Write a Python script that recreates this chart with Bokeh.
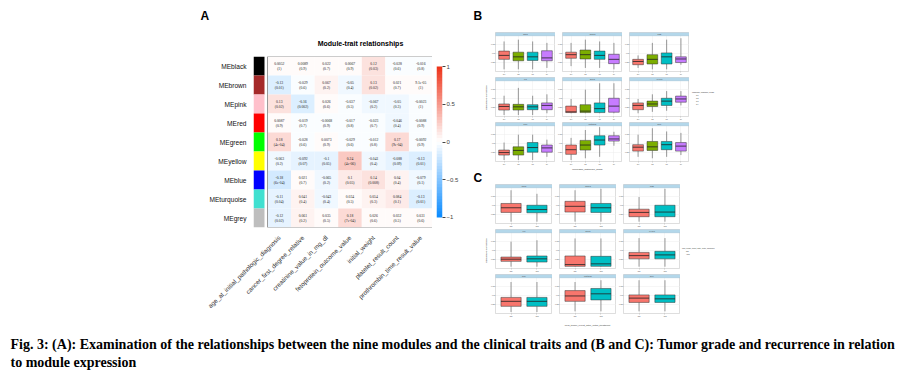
import math
import numpy as np
from bokeh.plotting import figure
from bokeh.layouts import row, column
from bokeh.models import (Range1d, FixedTicker, LinearAxis, Label, LinearColorMapper,
                          ColumnDataSource, Legend, LegendItem, Grid)
from bokeh.transform import linear_cmap
from bokeh.embed import file_html
from bokeh.resources import INLINE

SANS = "Liberation Sans"
SERIF = "Liberation Serif"

# ---------------- Panel A data ----------------
modules = ["MEblack", "MEbrown", "MEpink", "MEred", "MEgreen", "MEyellow", "MEblue", "MEturquoise", "MEgrey"]
module_colors = ["#000000", "#A52A2A", "#FFC0CB", "#FF0000", "#00FF00", "#FFFF00", "#0000FF", "#40E0D0", "#BEBEBE"]
traits = ["age_at_initial_pathologic_diagnosis", "cancer_first_degree_relative", "creatinine_value_in_mg_dl",
          "fetoprotein_outcome_value", "initial_weight", "platelet_result_count", "prothrombin_time_result_value"]
cor = [
    [0.0052, 0.0089, 0.022, 0.0067, 0.12, -0.028, -0.016],
    [-0.13, -0.029, 0.067, -0.05, 0.13, 0.021, 9.1e-05],
    [0.13, -0.16, 0.026, -0.037, -0.067, -0.05, -0.0023],
    [0.0087, -0.019, -0.0068, -0.017, -0.023, -0.046, -0.0088],
    [0.18, -0.028, 0.0073, -0.029, -0.012, 0.17, -0.0092],
    [-0.063, -0.092, -0.1, 0.24, -0.041, -0.088, -0.13],
    [-0.18, 0.021, -0.065, 0.1, 0.14, 0.04, -0.079],
    [-0.11, 0.041, -0.043, 0.034, 0.054, 0.084, -0.13],
    [-0.12, 0.061, 0.035, 0.18, 0.026, 0.032, 0.031],
]
pval = [
    ["1", "0.9", "0.7", "0.9", "0.03", "0.6", "0.8"],
    ["0.01", "0.6", "0.2", "0.4", "0.02", "0.7", "1"],
    ["0.02", "0.002", "0.6", "0.5", "0.2", "0.3", "1"],
    ["0.9", "0.7", "0.9", "0.8", "0.7", "0.4", "0.9"],
    ["4e-04", "0.6", "0.9", "0.6", "0.8", "9e-04", "0.9"],
    ["0.2", "0.07", "0.05", "4e-06", "0.4", "0.09", "0.01"],
    ["6e-04", "0.7", "0.2", "0.05", "0.008", "0.4", "0.1"],
    ["0.04", "0.4", "0.4", "0.5", "0.3", "0.1", "0.01"],
    ["0.02", "0.2", "0.5", "7e-04", "0.6", "0.5", "0.6"],
]
colorbar_ticks = [-1, -0.5, 0, 0.5, 1]

# ---------------- Panels B / C data (box statistics, eigengene expression) ----------------
facet_names = ["black", "brown", "pink", "red", "green", "yellow", "blue", "turquoise", "grey"]
grade_labels = ["G1", "G2", "G3", "G4"]
grade_colors = ["#F8766D", "#7CAE00", "#00BFC4", "#C77CFF"]
B_q3 = [[0.57, 0.54, 0.54, 0.58], [0.54, 0.60, 0.57, 0.48], [0.34, 0.47, 0.52, 0.41],
        [0.35, 0.34, 0.33, 0.38], [0.29, 0.33, 0.38, 0.51], [0.38, 0.43, 0.51, 0.57],
        [0.32, 0.41, 0.53, 0.46], [0.46, 0.59, 0.72, 0.72], [0.47, 0.56, 0.56, 0.53]]
B_med = [[0.45, 0.41, 0.41, 0.38], [0.47, 0.47, 0.45, 0.34], [0.28, 0.34, 0.41, 0.35],
         [0.28, 0.27, 0.27, 0.31], [0.13, 0.15, 0.22, 0.29], [0.31, 0.35, 0.43, 0.49],
         [0.25, 0.31, 0.39, 0.38], [0.33, 0.46, 0.60, 0.63], [0.40, 0.41, 0.47, 0.43]]
B_q1 = [[0.34, 0.30, 0.31, 0.30], [0.37, 0.35, 0.34, 0.22], [0.19, 0.21, 0.21, 0.25],
        [0.18, 0.18, 0.19, 0.19], [0.11, 0.11, 0.11, 0.12], [0.19, 0.28, 0.31, 0.40],
        [0.18, 0.18, 0.26, 0.26], [0.20, 0.32, 0.46, 0.57], [0.29, 0.31, 0.33, 0.29]]
B_hi = [[0.84, 0.89, 0.84, 0.80], [0.80, 0.89, 0.84, 0.80], [0.45, 0.80, 0.89, 0.93],
        [0.58, 0.80, 0.58, 0.62], [0.49, 0.75, 0.93, 0.93], [0.49, 0.62, 0.71, 0.71],
        [0.53, 0.75, 0.75, 0.61], [0.66, 0.88, 0.96, 0.83], [0.75, 0.93, 0.84, 0.80]]
B_lo = [[0.06, 0.06, 0.06, 0.10], [0.15, 0.10, 0.10, 0.06], [0.10, 0.06, 0.06, 0.19],
        [0.04, 0.04, 0.04, 0.09], [0.09, 0.09, 0.09, 0.09], [0.09, 0.13, 0.16, 0.31],
        [0.04, 0.04, 0.04, 0.13], [0.04, 0.09, 0.13, 0.44], [0.13, 0.09, 0.13, 0.18]]

event_labels = ["NO", "YES"]
event_colors = ["#F8766D", "#00BFC4"]
C_q3 = [[0.56, 0.51], [0.62, 0.56], [0.40, 0.51], [0.32, 0.35], [0.35, 0.34],
        [0.45, 0.48], [0.45, 0.45], [0.64, 0.70], [0.52, 0.52]]
C_med = [[0.44, 0.39], [0.48, 0.44], [0.31, 0.32], [0.26, 0.27], [0.11, 0.13],
         [0.36, 0.38], [0.34, 0.34], [0.49, 0.55], [0.43, 0.41]]
C_q1 = [[0.31, 0.30], [0.32, 0.31], [0.19, 0.19], [0.20, 0.18], [0.06, 0.06],
        [0.27, 0.27], [0.20, 0.20], [0.34, 0.38], [0.31, 0.31]]
C_hi = [[0.93, 0.83], [0.93, 0.97], [0.74, 0.97], [0.75, 0.79], [0.84, 0.84],
        [0.85, 0.85], [0.88, 0.88], [0.88, 0.93], [0.93, 0.93]]
C_lo = [[0.05, 0.05], [0.05, 0.05], [0.05, 0.05], [0.05, 0.05], [0.05, 0.05],
        [0.05, 0.05], [0.04, 0.04], [0.06, 0.06], [0.06, 0.06]]

caption_line1 = ("Fig. 3: (A): Examination of the relationships between the nine modules and the clinical "
                 "traits and (B and C): Tumor grade and recurrence in relation")
caption_line2 = "to module expression"


def blue_white_red(n=50):
    blue = (0.05, 0.55, 1.0)
    red = (0.93, 0.2, 0.1)
    out = []
    for i in range(n):
        t = i / (n - 1)
        if t < 0.5:
            f = (0.5 - t) / 0.5
            c = [1 - (1 - b) * f for b in blue]
        else:
            f = (t - 0.5) / 0.5
            c = [1 - (1 - r) * f for r in red]
        out.append("#%02x%02x%02x" % tuple(int(round(255 * v)) for v in c))
    return out


PALETTE = blue_white_red(50)


def blank(width, height, **kw):
    p = figure(width=width, height=height, x_range=Range1d(0, 1), y_range=Range1d(0, 1),
               x_axis_type=None, y_axis_type=None, output_backend="svg", toolbar_location=None,
               min_border=0, **kw)
    p.outline_line_color = None
    return p


def slabel(p, x, y, text, size, bold=False, align="left", angle=0, color="#000000", font=SANS):
    p.add_layout(Label(x=x, y=y, x_units="screen", y_units="screen", text=text,
                       text_font=font, text_font_size=size, text_font_style="bold" if bold else "normal",
                       text_align=align, text_baseline="middle", angle=angle, text_color=color))


# ---------------- Panel A ----------------
A_H = 274
headA = blank(470, 56)
slabel(headA, 200, 41, "A", "12px", bold=True)
slabel(headA, 360, 13, "Module-trait relationships", "7px", bold=True, align="center")

pA = figure(width=432, height=A_H, x_range=Range1d(-1.094, 6.5), y_range=Range1d(-0.5, 8.5),
            min_border_left=253, min_border_right=0, min_border_top=0, min_border_bottom=103,
            x_axis_type=None, y_axis_type=None, output_backend="svg", toolbar_location=None)
pA.outline_line_color = None

xs, ys, cs, t1, t2 = [], [], [], [], []
for i, m in enumerate(modules):
    for j, t in enumerate(traits):
        xs.append(j)
        ys.append(len(modules) - 1 - i)
        cs.append(cor[i][j])
        t1.append("%.2g" % cor[i][j])
        t2.append("(" + pval[i][j] + ")")
src = ColumnDataSource(dict(x=xs, y=ys, cor=cs, t1=t1, t2=t2))
pA.rect(x="x", y="y", width=1, height=1, source=src, line_color=None,
        fill_color=linear_cmap("cor", PALETTE, -1, 1))
pA.text(x="x", y="y", text="t1", source=src, text_font_size="3.7px", text_align="center",
        text_baseline="middle", y_offset=-2.3, text_color="#222222", text_font=SANS)
pA.text(x="x", y="y", text="t2", source=src, text_font_size="3.7px", text_align="center",
        text_baseline="middle", y_offset=2.5, text_color="#222222", text_font=SANS)
# heatmap border
pA.quad(left=[-0.5], right=[len(traits) - 0.5], bottom=[-0.5], top=[len(modules) - 0.5],
        fill_color=None, line_color="#9A9A9A", line_width=1)
# module colour swatches
msrc = ColumnDataSource(dict(y=[len(modules) - 1 - i for i in range(len(modules))], c=module_colors))
pA.rect(x=-0.861, y="y", width=0.467, height=1, fill_color="c", line_color=None, source=msrc)

xa = LinearAxis(ticker=FixedTicker(ticks=list(range(len(traits)))),
                major_label_overrides={j: t for j, t in enumerate(traits)},
                major_label_orientation=math.pi / 4)
xa.axis_line_color = None
xa.major_tick_line_color = None
xa.minor_tick_line_color = None
xa.major_label_text_font = SANS
xa.major_label_text_font_size = "6.3px"
xa.major_label_text_color = "#333333"
xa.major_label_standoff = 3
pA.add_layout(xa, "below")

ya = LinearAxis(ticker=FixedTicker(ticks=list(range(len(modules)))),
                major_label_overrides={len(modules) - 1 - i: m for i, m in enumerate(modules)})
ya.axis_line_color = None
ya.major_tick_line_color = None
ya.minor_tick_line_color = None
ya.major_label_text_font = SANS
ya.major_label_text_font_size = "6.6px"
ya.major_label_text_color = "#111111"
ya.major_label_standoff = 1
pA.add_layout(ya, "left")

# ---------------- colour bar (same frame as the heatmap) ----------------
pCB = figure(width=38, height=A_H, x_range=Range1d(0, 1), y_range=Range1d(-1.1325, 1.1325),
             min_border_left=4, min_border_right=28, min_border_top=0, min_border_bottom=103,
             x_axis_type=None, y_axis_type=None, output_backend="svg", toolbar_location=None)
pCB.outline_line_color = None
grad = np.linspace(-1, 1, 200).reshape(200, 1)
pCB.image(image=[grad], x=0, y=-1, dw=1, dh=2,
          color_mapper=LinearColorMapper(palette=PALETTE, low=-1, high=1))
cba = LinearAxis(ticker=FixedTicker(ticks=colorbar_ticks))
cba.axis_line_color = None
cba.major_tick_out = 3
cba.major_tick_in = 0
cba.major_tick_line_color = "#444444"
cba.minor_tick_line_color = None
cba.major_label_text_font = SANS
cba.major_label_text_font_size = "6px"
cba.major_label_standoff = 1
pCB.add_layout(cba, "right")

panelA = column(headA, row(pA, pCB, spacing=0), spacing=0)


# ---------------- facets ----------------
def facet(name, q1, med, q3, lo, hi, colors, labels, width, height, bottom, box_w):
    n = len(q1)
    p = figure(width=width, height=height, x_range=Range1d(0.4, n + 0.6), y_range=Range1d(0, 1.09),
               min_border_left=4, min_border_right=0, min_border_top=0, min_border_bottom=bottom,
               x_axis_type=None, y_axis_type=None, output_backend="svg", toolbar_location=None)
    p.outline_line_color = "#C8C8C8"
    p.outline_line_width = 0.6
    xs = list(range(1, n + 1))
    xax = LinearAxis(ticker=FixedTicker(ticks=xs), major_label_overrides={x: l for x, l in zip(xs, labels)})
    yax = LinearAxis(ticker=FixedTicker(ticks=[0.25, 0.5, 0.75]))
    for ax in (xax, yax):
        ax.axis_line_color = None
        ax.major_tick_out = 1
        ax.major_tick_in = 0
        ax.major_tick_line_color = "#888888"
        ax.major_tick_line_width = 0.4
        ax.minor_tick_line_color = None
        ax.major_label_text_font = SANS
        ax.major_label_text_font_size = "1.8px"
        ax.major_label_text_color = "#555555"
        ax.major_label_standoff = 0
    p.add_layout(xax, "below")
    p.add_layout(yax, "left")
    p.add_layout(Grid(dimension=0, ticker=xax.ticker, grid_line_color="#EDEDED", grid_line_width=0.5))
    p.add_layout(Grid(dimension=1, ticker=yax.ticker, grid_line_color="#EDEDED", grid_line_width=0.5))
    s = ColumnDataSource(dict(x=xs, q1=q1, med=med, q3=q3, lo=lo, hi=hi, c=colors,
                              xl=[x - box_w / 2 for x in xs], xr=[x + box_w / 2 for x in xs]))
    p.segment(x0="x", y0="q3", x1="x", y1="hi", source=s, line_color="#333333", line_width=0.5)
    p.segment(x0="x", y0="lo", x1="x", y1="q1", source=s, line_color="#333333", line_width=0.5)
    p.quad(left="xl", right="xr", bottom="q1", top="q3", fill_color="c", line_color="#333333",
           line_width=0.5, source=s)
    p.segment(x0="xl", y0="med", x1="xr", y1="med", source=s, line_color="#222222", line_width=0.8)
    p.quad(left=[0.4], right=[n + 0.6], bottom=[1.0], top=[1.09], fill_color="#B3D7EA",
           line_color="#9DBFD2", line_width=0.5)
    p.text(x=[(n + 1) / 2], y=[1.045], text=[name], text_font_size="2.2px", text_align="center",
           text_baseline="middle", text_color="#333333", text_font=SANS)
    return p


def legend_fig(width, height, title, labels, colors, loc):
    p = blank(width, height)
    items = []
    for lab, c in zip(labels, colors):
        r = p.quad(left=[], right=[], top=[], bottom=[], fill_color=c, line_color="#444444", line_width=0.3)
        items.append(LegendItem(label=lab, renderers=[r]))
    lg = Legend(items=items, location=loc, title=title, orientation="vertical")
    lg.title_text_font_size = "1.8px"
    lg.title_text_font = SANS
    lg.title_standoff = 1
    lg.label_text_font_size = "1.8px"
    lg.label_text_font = SANS
    lg.label_height = 2
    lg.label_width = 4
    lg.label_standoff = 1
    lg.glyph_height = 2
    lg.glyph_width = 3
    lg.spacing = 1
    lg.padding = 0
    lg.margin = 0
    lg.border_line_color = None
    lg.background_fill_alpha = 0
    p.add_layout(lg)
    return p


def facet_grid(q1, med, q3, lo, hi, colors, labels, width, height, bottom, box_w):
    rows = []
    for r in range(3):
        figs = []
        for c in range(3):
            k = r * 3 + c
            figs.append(facet(facet_names[k], q1[k], med[k], q3[k], lo[k], hi[k], colors, labels,
                              width, height, bottom, box_w))
        rows.append(row(*figs, spacing=0))
    return column(*rows, spacing=0)


RIGHT_W = 427
# header B
hB = blank(RIGHT_W, 32)
slabel(hB, 3, 17, "B", "12px", bold=True)
# y label B
ylB = blank(18, 135)
slabel(ylB, 16, 70, "Eigengene expression", "2.5px", align="center", angle=math.pi / 2, color="#333333")
gB = facet_grid(B_q1, B_med, B_q3, B_lo, B_hi, grade_colors, grade_labels, 67, 45, 3, 0.75)
lB = legend_fig(RIGHT_W - 18 - 201, 135, "neoplasm_histologic_grade", grade_labels, grade_colors, (3, 62))
rowB = row(ylB, gB, lB, spacing=0)

mid = blank(RIGHT_W, 17)
slabel(mid, 117, 15, "neoplasm_histologic_grade", "2.5px", align="center", color="#333333")
slabel(mid, 3, 7, "C", "12px", bold=True)

ylC = blank(18, 135)
slabel(ylC, 16, 69, "Eigengene expression", "2.5px", align="center", angle=math.pi / 2, color="#333333")
gC = facet_grid(C_q1, C_med, C_q3, C_lo, C_hi, event_colors, event_labels, 64, 45, 5, 0.78)
lC = legend_fig(RIGHT_W - 18 - 192, 135, "new_tumor_event_after_initial_treatment", event_labels,
                event_colors, (2, 64))
rowC = row(ylC, gC, lC, spacing=0)

fC = blank(RIGHT_W, 11)
slabel(fC, 117, 6, "new_tumor_event_after_initial_treatment", "2.5px", align="center", color="#333333")

right = column(hB, rowB, mid, rowC, fC, spacing=0)
top = row(panelA, right, spacing=0)

cap = blank(897, 46)
slabel(cap, 10, 32, caption_line1, "14px", bold=True, font=SERIF)
slabel(cap, 10, 14, caption_line2, "14px", bold=True, font=SERIF)

layout = column(top, cap, spacing=0)
open("out.html", "w").write(file_html(layout, INLINE))
